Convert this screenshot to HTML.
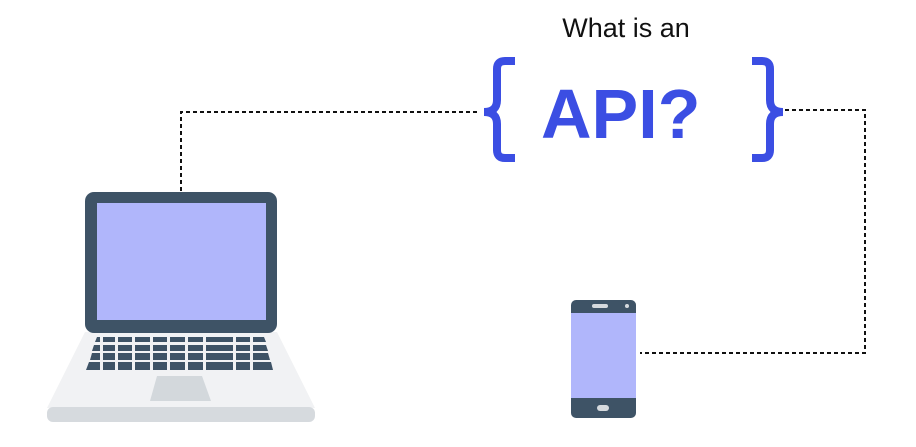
<!DOCTYPE html>
<html><head><style>
html,body{margin:0;padding:0;background:#fff;}
body{width:916px;height:447px;overflow:hidden;position:relative;}
</style></head><body>
<svg width="916" height="447" viewBox="0 0 916 447" style="position:absolute;left:0;top:0">
<g fill="none" stroke="#111" stroke-width="2" stroke-dasharray="4,3">
<path d="M181 191 V112 H478"/>
<path d="M785 110 H865 V353 H640"/>
</g>
<text x="626" y="37" text-anchor="middle" font-family="Liberation Sans, sans-serif" font-size="27" fill="#111">What is an</text>
<text x="541" y="138" font-family="Liberation Sans, sans-serif" font-weight="bold" font-size="70" fill="#3b4ee3">API?</text>
<g fill="none" stroke="#3b4ee3" stroke-width="8" stroke-linecap="butt">
<path d="M515 61 H505 Q497 61 497 69 V100 Q497 112 484 112 Q497 112 497 124 V150 Q497 158 505 158 H515"/>
<path d="M752 61 H762 Q770 61 770 69 V100 Q770 112 783 112 Q770 112 770 124 V150 Q770 158 762 158 H752"/>
</g>
<!-- laptop -->
<path d="M85 332 L277 332 L315 408 L47 408 Z" fill="#f1f2f4"/>
<rect x="47" y="407" width="268" height="15" rx="6" fill="#d6dade"/>
<rect x="85" y="192" width="192" height="141" rx="9" fill="#3e5366"/>
<rect x="97" y="203" width="169" height="117" fill="#b0b6fb"/>
<g fill="#3e5366">
<path d="M97 337 H264 L266 342 H95 Z"/>
<path d="M94 345 H266 L268 351 H92 Z"/>
<path d="M92 353 H268 L270 360 H90 Z"/>
<path d="M89 362 H271 L273 370 H86 Z"/>
</g>
<g fill="#f1f2f4">
<rect x="100" y="336" width="3" height="36"/><rect x="115" y="336" width="3" height="36"/>
<rect x="132" y="336" width="3" height="36"/><rect x="150" y="336" width="3" height="36"/>
<rect x="167" y="336" width="3" height="36"/><rect x="185" y="336" width="3" height="36"/>
<rect x="203" y="336" width="3" height="36"/><rect x="233" y="336" width="3" height="36"/>
<rect x="250" y="336" width="3" height="36"/>
</g>
<path d="M157 376 H202 L211 401 H150 Z" fill="#d3d8dc"/>
<!-- phone -->
<rect x="571" y="300" width="65" height="118" rx="5" fill="#3e5366"/>
<rect x="571" y="313" width="65" height="85" fill="#b0b6fb"/>
<rect x="592" y="304" width="16" height="4" rx="2" fill="#d6dade"/>
<circle cx="627" cy="306" r="2" fill="#d6dade"/>
<rect x="597" y="405" width="12" height="6" rx="3" fill="#d6dade"/>
</svg>
</body></html>
